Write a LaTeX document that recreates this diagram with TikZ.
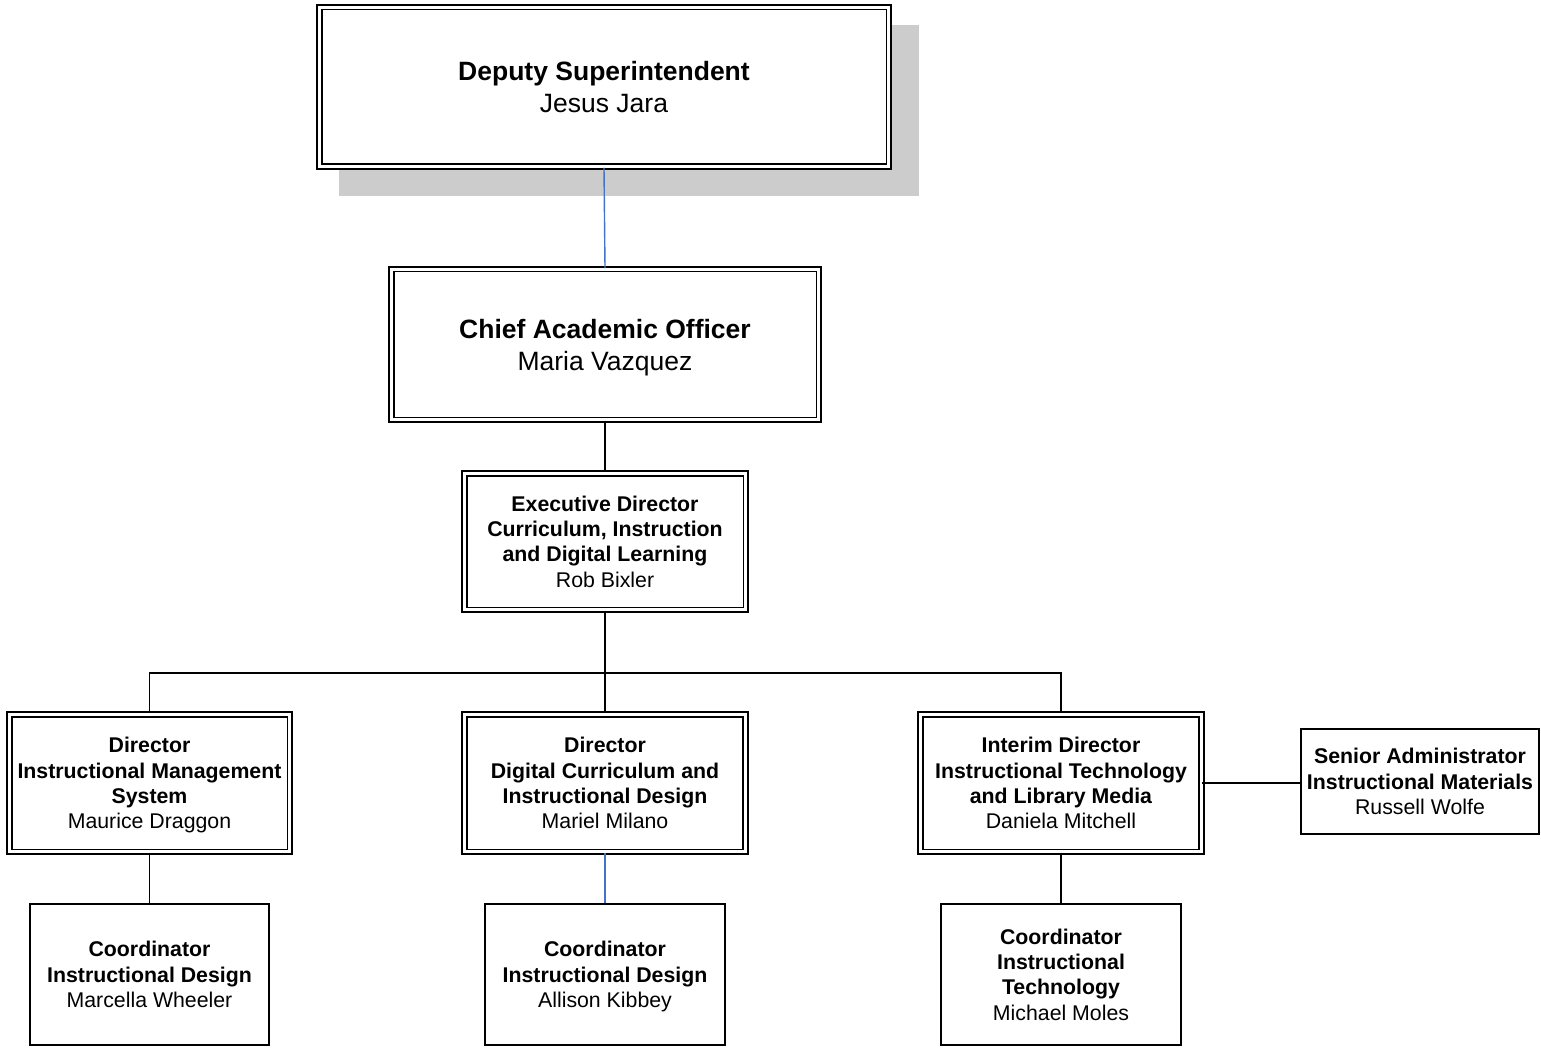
\documentclass[tikz,border=0pt]{standalone}
\usepackage{fontspec}
\setmainfont{Liberation Sans}
\usetikzlibrary{backgrounds}

\definecolor{linkblue}{RGB}{68,114,196}

\tikzset{
	dblbox/.style={draw, double=white, double distance=2.8pt, line width=1.9pt, fill=white, inner sep=0pt, align=center, text depth=0pt, font=\fontsize{21.3}{25.4}\selectfont},
	topbox/.style={dblbox, font=\fontsize{26.5}{32}\selectfont},
	sglbox/.style={draw, line width=1.9pt, fill=white, inner sep=0pt, align=center, text depth=0pt, minimum width=239.2pt, minimum height=141.2pt, font=\fontsize{21.3}{25.4}\selectfont},
	conn/.style={line width=1.9pt},
	bluelink/.style={line width=1.4pt, color=linkblue}
}

\begin{document}
\begin{tikzpicture}[x=1pt, y=1pt]
			%%%%% START %%%%%
			
			\useasboundingbox (0, 0) rectangle (1541, -1048);
			
			\node[topbox, minimum width=569.6pt, minimum height=159.6pt] (dep) at (604, -87) {\textbf{Deputy Superintendent}\\Jesus Jara};
			\node[topbox, minimum width=427.6pt, minimum height=150.6pt] (cao) at (605, -344.5) {\textbf{Chief Academic Officer}\\Maria Vazquez};
			\node[dblbox, minimum width=281.6pt, minimum height=136.6pt] (exec) at (605, -541.5) {\textbf{Executive Director}\\\textbf{Curriculum, Instruction}\\\textbf{and Digital Learning}\\Rob Bixler};
			
			\node[dblbox, minimum width=280.6pt, minimum height=137.6pt] (dirims) at (149.5, -783) {\textbf{Director}\\\textbf{Instructional Management}\\\textbf{System}\\Maurice Draggon};
			\node[dblbox, minimum width=280.6pt, minimum height=137.6pt] (dirdc) at (605, -783) {\textbf{Director}\\\textbf{Digital Curriculum and}\\\textbf{Instructional Design}\\Mariel Milano};
			\node[dblbox, minimum width=280.6pt, minimum height=137.6pt] (dirit) at (1061, -783) {\textbf{Interim Director}\\\textbf{Instructional Technology}\\\textbf{and Library Media}\\Daniela Mitchell};
			\node[sglbox, minimum width=238pt, minimum height=105.2pt] (senim) at (1420, -781.5) {\textbf{Senior Administrator}\\\textbf{Instructional Materials}\\Russell Wolfe};
			
			\node[sglbox] (coims) at (149.5, -974.5) {\textbf{Coordinator}\\\textbf{Instructional Design}\\Marcella Wheeler};
			\node[sglbox] (codc) at (605, -974.5) {\textbf{Coordinator}\\\textbf{Instructional Design}\\Allison Kibbey};
			\node[sglbox] (coit) at (1061, -974.5) {\textbf{Coordinator}\\\textbf{Instructional}\\\textbf{Technology}\\Michael Moles};
			
			% shadow of the top box
			\begin{scope}[on background layer]
				\fill[black!20] ([shift={(20.8, -28.2)}]dep.south west) rectangle ([shift={(29.2, -18.8)}]dep.north east);
			\end{scope}
			
			\coordinate (bus) at (605, -673);
			
			\draw[bluelink] (dep.south) -- (cao.north);
			\draw[conn] (cao.south) -- (exec.north);
			\draw[conn] (exec.south) -- (bus);
			\draw[conn] (dirims.north) |- (bus) -| (dirit.north);
			\draw[conn] (bus) -- (dirdc.north);
			
			\draw[conn] (dirims.south) -- (coims.north);
			\draw[bluelink] (dirdc.south) -- (codc.north);
			\draw[conn] (dirit.south) -- (coit.north);
			\draw[conn] (dirit.east) -- (dirit.east -| senim.west);
			
			%%%%% END %%%%%
		\end{tikzpicture}
\end{document}
